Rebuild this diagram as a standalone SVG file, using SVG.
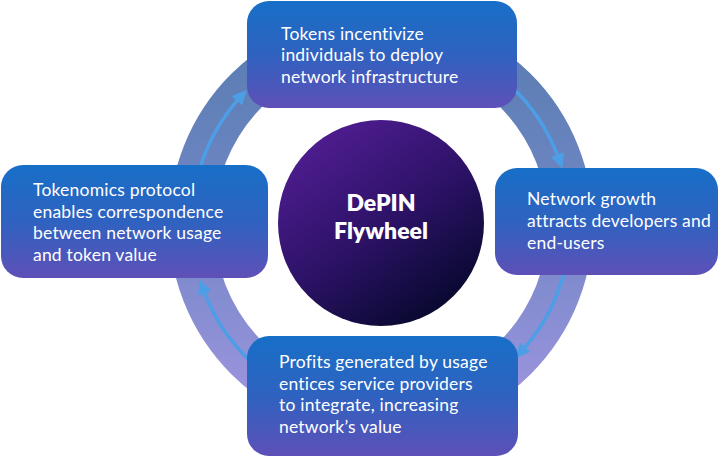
<svg xmlns="http://www.w3.org/2000/svg" width="720" height="457" viewBox="0 0 720 457">
  <defs>
    <linearGradient id="boxGrad" x1="0" y1="0" x2="0" y2="1">
      <stop offset="0" stop-color="#176fc7"/>
      <stop offset="0.5" stop-color="#2f62c0"/>
      <stop offset="1" stop-color="#5e50b7"/>
    </linearGradient>
    <linearGradient id="ringGrad" gradientUnits="userSpaceOnUse" x1="0" y1="20" x2="0" y2="430">
      <stop offset="0" stop-color="#577caf"/>
      <stop offset="0.45" stop-color="#6f86c4"/>
      <stop offset="1" stop-color="#a396e2"/>
    </linearGradient>
    <linearGradient id="hubGrad" x1="0.2" y1="0.1" x2="0.8" y2="0.95">
      <stop offset="0" stop-color="#4d1c8e"/>
      <stop offset="0.5" stop-color="#2c1266"/>
      <stop offset="1" stop-color="#06082c"/>
    </linearGradient>
    <marker id="head" viewBox="0 0 15 14" markerUnits="userSpaceOnUse" markerWidth="15" markerHeight="14" refX="4" refY="7" orient="auto">
      <path d="M0,0 L15,7 L0,14 z" fill="#4c9ee6"/>
    </marker>
    <style>
      .box { fill: url(#boxGrad); }
      .lbl { font-family: Lato, "Open Sans", "Liberation Sans", sans-serif; font-size: 17.5px; letter-spacing: 0.2px; fill: #ffffff; }
      .title { font-family: Lato, "Open Sans", "Liberation Sans", sans-serif; font-size: 23px; font-weight: 800; fill: #ffffff; text-anchor: middle; }
      .arrow { fill: none; stroke: #4c9ee6; stroke-width: 3.5; marker-end: url(#head); }
    </style>
  </defs>

  <g id="connectors">
    <circle cx="381" cy="224" r="189.5" fill="none" stroke="url(#ringGrad)" stroke-width="45"/>
    <path class="arrow" d="M198.0,175.0 A189.5,189.5 0 0 1 239.5,97.9"/>
    <path class="arrow" d="M507.8,83.2 A189.5,189.5 0 0 1 558.7,158.3"/>
    <path class="arrow" d="M565.6,266.6 A189.5,189.5 0 0 1 522.5,350.1"/>
    <path class="arrow" d="M251.8,362.6 A189.5,189.5 0 0 1 203.3,289.7"/>
  </g>

  <g id="hub">
    <circle cx="381" cy="223" r="103" fill="url(#hubGrad)"/>
    <text class="title" x="381" y="211">DePIN</text>
    <text class="title" x="381" y="239">Flywheel</text>
  </g>

  <g id="node-top">
    <rect class="box" x="247" y="1" width="270" height="107" rx="22"/>
    <text class="lbl" x="281" y="39.5">Tokens incentivize</text>
    <text class="lbl" x="281" y="61">individuals to deploy</text>
    <text class="lbl" x="281" y="82.5">network infrastructure</text>
  </g>

  <g id="node-right">
    <rect class="box" x="495" y="168" width="223" height="107" rx="22"/>
    <text class="lbl" x="527" y="205">Network growth</text>
    <text class="lbl" x="527" y="227">attracts developers and</text>
    <text class="lbl" x="527" y="249">end-users</text>
  </g>

  <g id="node-bottom">
    <rect class="box" x="247" y="336" width="271" height="120" rx="22"/>
    <text class="lbl" x="279" y="368">Profits generated by usage</text>
    <text class="lbl" x="279" y="389.7">entices service providers</text>
    <text class="lbl" x="279" y="411.4">to integrate, increasing</text>
    <text class="lbl" x="279" y="433">network’s value</text>
  </g>

  <g id="node-left">
    <rect class="box" x="1" y="165" width="267" height="113" rx="22"/>
    <text class="lbl" x="33" y="196">Tokenomics protocol</text>
    <text class="lbl" x="33" y="217.5">enables correspondence</text>
    <text class="lbl" x="33" y="239">between network usage</text>
    <text class="lbl" x="33" y="261">and token value</text>
  </g>
</svg>
